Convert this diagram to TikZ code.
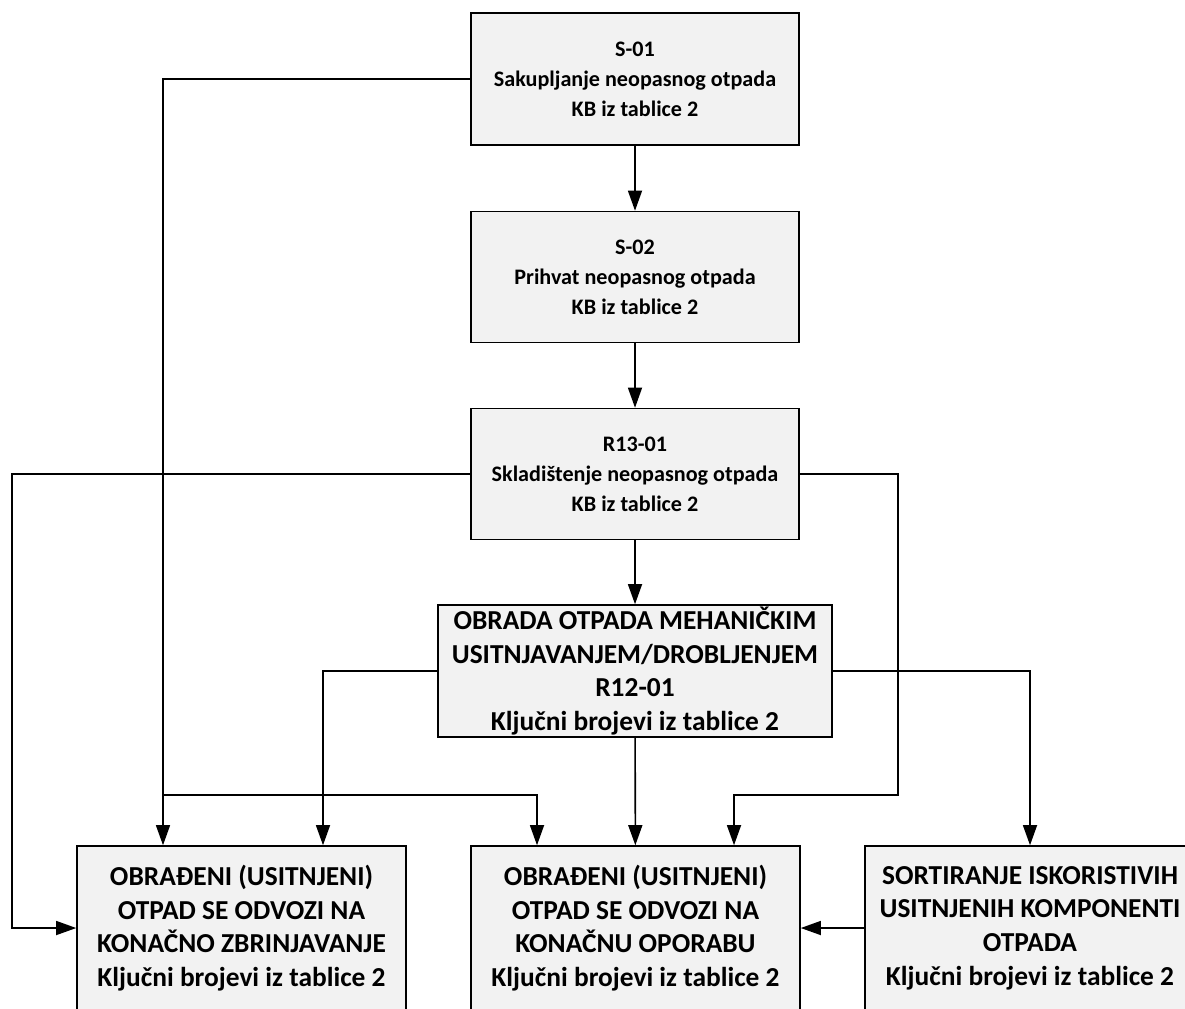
\documentclass[tikz,border=0pt]{standalone}
\usepackage{fontspec}
\setmainfont{Carlito}
\usetikzlibrary{arrows.meta}

\tikzset{%
	kutija/.style={draw,line width=0.9pt,fill=sivo,inner sep=0pt,align=center,%
		font=\bfseries\fontsize{12.6}{17}\selectfont,minimum width=6.56cm,minimum height=2.62cm},%
	velika/.style={kutija,font=\bfseries\fontsize{15.6}{19.2}\selectfont,minimum height=3.28cm},%
	strelica/.style={draw,line width=0.9pt,-{Triangle[length=11.5pt,width=8pt]}}%
}
\definecolor{sivo}{HTML}{F2F2F2}

\begin{document}
\begin{tikzpicture}[x=0.02cm,y=-0.02cm] % pocetak crteza
\useasboundingbox (0,0) rectangle (1185,1008);
\clip (0,0) rectangle (1185,1008);
% kutije
\node[kutija,minimum height=2.64cm] (s01) at (635,79) {S-01\\Sakupljanje neopasnog otpada\\KB iz tablice 2};
\node[kutija] (s02) at (635,277) {S-02\\Prihvat neopasnog otpada\\KB iz tablice 2};
\node[kutija] (r13) at (635,474) {R13-01\\Skladištenje neopasnog otpada\\KB iz tablice 2};
\node[velika,minimum width=7.88cm,minimum height=2.64cm] (obrada) at (635,671)%
	{OBRADA OTPADA MEHANIČKIM\\USITNJAVANJEM/DROBLJENJEM\\R12-01\\Ključni brojevi iz tablice 2};
\node[velika,minimum width=6.58cm] (zbrinjavanje) at (241.5,928)%
	{OBRAĐENI (USITNJENI)\\OTPAD SE ODVOZI NA\\KONAČNO ZBRINJAVANJE\\Ključni brojevi iz tablice 2};
\node[velika,minimum width=6.58cm] (oporaba) at (635.5,928)%
	{OBRAĐENI (USITNJENI)\\OTPAD SE ODVOZI NA\\KONAČNU OPORABU\\Ključni brojevi iz tablice 2};
\node[velika,minimum width=6.6cm] (sortiranje) at (1030,928)%
	{SORTIRANJE ISKORISTIVIH\\USITNJENIH KOMPONENTI\\OTPADA\\Ključni brojevi iz tablice 2};
% pomocne tocke
\coordinate (xa) at (163,0);
\coordinate (xb) at (12,0);
\coordinate (xc) at (323,0);
\coordinate (xd) at (537,0);
\coordinate (xe) at (734,0);
\coordinate (xf) at (898,0);
\coordinate (yr) at (0,795);
% veze
\foreach \a/\b in%
{%
	s01/s02,s02/r13,r13/obrada,obrada/oporaba%
}{%
	\path (\a) [strelica]-- (\b);
}%
\path (s01.west) [strelica]-| (xa |- zbrinjavanje.north);
\path (xa |- yr) [strelica]-| (xd |- oporaba.north);
\path (r13.west) [strelica]-| (xb |- zbrinjavanje.west) -- (zbrinjavanje.west);
\path (r13.east) [strelica]-| (xf |- yr) -| (xe |- oporaba.north);
\path (obrada.west) [strelica]-| (xc |- zbrinjavanje.north);
\path (obrada.east) [strelica]-| (sortiranje.north);
\path (sortiranje.west) [strelica]-- (oporaba.east);
\end{tikzpicture}
\end{document}
